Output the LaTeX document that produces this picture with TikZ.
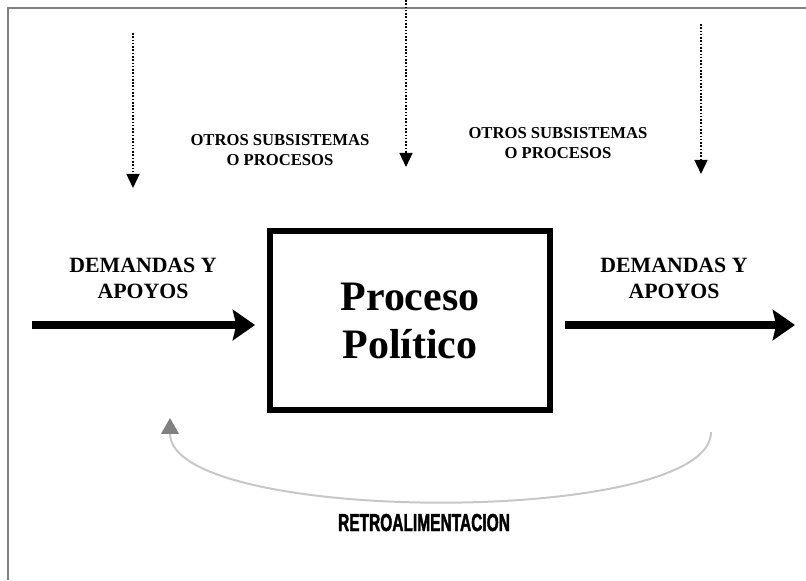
\documentclass[tikz,border=0pt]{standalone}
\usepackage{fontspec}
\setmainfont{Liberation Serif}
\newfontfamily\retrofont[FakeStretch=0.63, FakeBold=1.6]{Liberation Sans}
\usetikzlibrary{arrows.meta}

\begin{document}
\begin{tikzpicture}[
        x=0.03cm, y=-0.03cm,
        process/.style = {
            draw,
            rectangle,
            line width=5.1pt,
            minimum width=8.4cm,
            minimum height=5.37cm,
            align=center,
            font=\fontsize{35.8}{41}\selectfont\bfseries
        },
        flow/.style = {
            line width=6.4pt,
            -{Stealth[length=19pt, width=26pt, inset=3pt]}
        },
        hint/.style = {
            line width=1.6pt,
            dash pattern=on 1.4pt off 1.4pt,
            -{Triangle[length=12pt, width=11pt]}
        },
        feed/.style = {
            draw=black!22,
            line width=1.7pt,
            -{Triangle[length=13.6pt, width=15pt, color=black!50]}
        },
        demand/.style = {
            align=center,
            inner sep=0pt,
            font=\fontsize{18.6}{22}\selectfont\bfseries
        },
        others/.style = {
            align=center,
            inner sep=0pt,
            font=\fontsize{14.2}{16.5}\selectfont\bfseries
        },
        feedtext/.style = {
            inner sep=0pt,
            font=\retrofont\fontsize{21}{24}\selectfont\bfseries
        }
    ]
        \useasboundingbox (0,0) rectangle (806,580);
        \draw [black!50, line width=1.2pt] (806,8) -- (8,8) -- (8,580);

        \node [process]  (process)  at (410,320.5)  {Proceso\\Político};

        \coordinate (inStart)  at (32,325);
        \coordinate (outEnd)   at (795,325);
        \coordinate (topL)     at (133,33);
        \coordinate (tipL)     at (133,188);
        \coordinate (topM)     at (406,0);
        \coordinate (tipM)     at (406,167);
        \coordinate (topR)     at (701,24);
        \coordinate (tipR)     at (701,174);
        \coordinate (feedStart) at (711,432);
        \coordinate (feedEnd)   at (170,418);

        % base anchor sits on the last line
        \node [demand, anchor=base]   (demIn)    at (143,298)  {DEMANDAS Y\\APOYOS};
        \node [demand, anchor=base]   (demOut)   at (674,298)  {DEMANDAS Y\\APOYOS};
        \node [others, anchor=base]   (othersL)  at (280,165)  {OTROS SUBSISTEMAS\\O PROCESOS};
        \node [others, anchor=base]   (othersR)  at (558,158)  {OTROS SUBSISTEMAS\\O PROCESOS};
        \node [feedtext, anchor=base] (retro)    at (424,531)  {RETROALIMENTACION};

        \path
            (inStart)   edge [flow, shorten >=10.2pt]   (inStart -| process.west)
            (process.east |- outEnd) edge [flow, shorten <=10.2pt] (outEnd)
            (topL)      edge [hint]     (tipL)
            (topM)      edge [hint]     (tipM)
            (topR)      edge [hint]     (tipR)
        ;
        \draw [feed] (feedStart) .. controls (711,527) and (170,525) .. (feedEnd);
    \end{tikzpicture}
\end{document}
